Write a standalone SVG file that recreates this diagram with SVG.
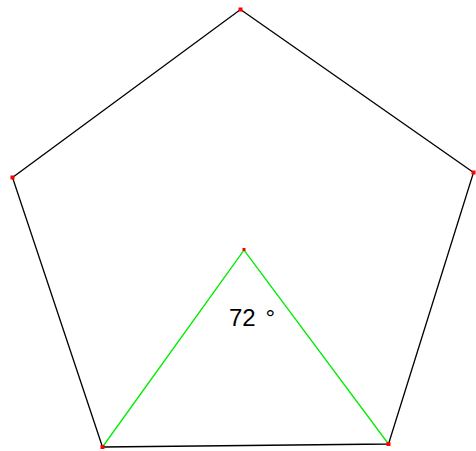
<svg xmlns="http://www.w3.org/2000/svg" width="476" height="451" viewBox="0 0 476 451">
<style>
.edge{fill:none;stroke:#000;stroke-width:1.3}
.tri{fill:none;stroke:#00ee00;stroke-width:1.3}
.pt{fill:#ff0000}
.lbl{font-family:"Liberation Sans",Arial,sans-serif;font-size:24px;fill:#000}
</style>
<rect width="476" height="451" fill="#fff"/>
<g id="connectors">
<polygon class="edge" points="240.5,9.5 473.5,172.5 388.5,444 102.5,447 12.5,177.5"/>
<polyline class="tri" points="102.5,447 244,250 388.5,444"/>
</g>
<g id="v-top"><rect class="pt" x="238.5" y="7.5" width="4" height="4"/></g>
<g id="v-left"><rect class="pt" x="10.5" y="175.5" width="4" height="4"/></g>
<g id="v-right"><rect class="pt" x="471.5" y="170.5" width="4" height="4"/></g>
<g id="v-bottom-left"><rect class="pt" x="100.5" y="445" width="4" height="4"/></g>
<g id="v-bottom-right"><rect class="pt" x="386.5" y="442" width="4" height="4"/></g>
<g id="v-center"><rect class="pt" x="242.5" y="248" width="3" height="3"/></g>
<g id="label"><text class="lbl" x="229" y="325.5">72 <tspan x="265.5">°</tspan></text></g>
</svg>
